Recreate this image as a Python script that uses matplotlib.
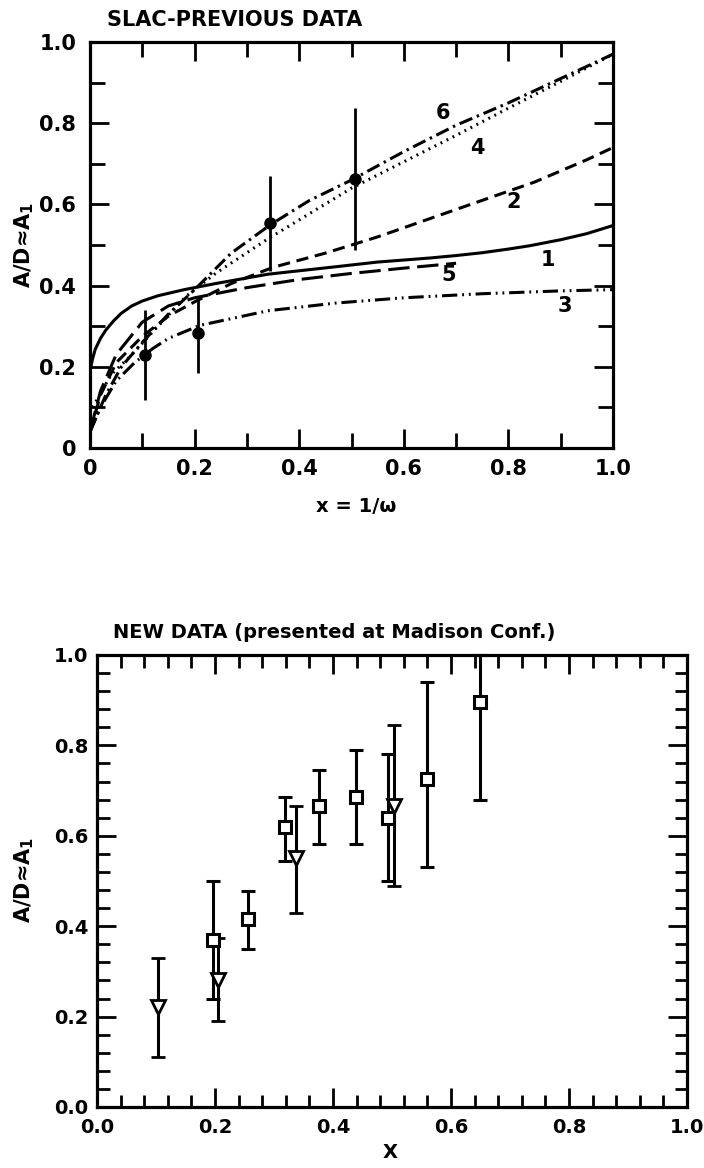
import matplotlib
matplotlib.use("Agg")
import matplotlib.pyplot as plt
from matplotlib.ticker import MultipleLocator

# ---- top panel: model curves ----
c1_x = [0, 0.005, 0.01, 0.02, 0.03, 0.045, 0.06, 0.08, 0.1, 0.13, 0.18, 0.24, 0.34, 0.46, 0.55, 0.65,
        0.7, 0.75, 0.8, 0.84, 0.9, 0.95, 1.0]
c1_y = [0.19, 0.22, 0.243, 0.27, 0.29, 0.313, 0.332, 0.35, 0.362, 0.375, 0.39, 0.405, 0.428, 0.445, 0.458,
        0.468, 0.474, 0.481, 0.49, 0.498, 0.513, 0.528, 0.548]

c2_x = [0, 0.02, 0.05, 0.1, 0.15, 0.2, 0.27, 0.35, 0.45, 0.55, 0.65, 0.75, 0.85, 0.95, 1.0]
c2_y = [0.04, 0.13, 0.21, 0.275, 0.325, 0.36, 0.405, 0.445, 0.48, 0.52, 0.565, 0.61, 0.655, 0.71, 0.74]

c3_x = [0, 0.02, 0.05, 0.085, 0.12, 0.15, 0.21, 0.34, 0.47, 0.6, 0.75, 0.9, 1.0]
c3_y = [0.04, 0.1, 0.165, 0.21, 0.245, 0.27, 0.302, 0.338, 0.357, 0.37, 0.38, 0.387, 0.39]

c4_x = [0.005, 0.04, 0.08, 0.13, 0.185, 0.24, 0.34, 0.5, 0.6, 0.7, 0.8, 0.9, 1.0]
c4_y = [0.1, 0.18, 0.23, 0.3, 0.375, 0.43, 0.515, 0.64, 0.705, 0.77, 0.837, 0.903, 0.97]

c5_x = [0, 0.02, 0.05, 0.1, 0.15, 0.2, 0.3, 0.4, 0.5, 0.6, 0.7]
c5_y = [0.04, 0.14, 0.23, 0.31, 0.35, 0.37, 0.395, 0.415, 0.43, 0.443, 0.455]

c6_x = [0, 0.03, 0.06, 0.1, 0.15, 0.2, 0.27, 0.345, 0.42, 0.5, 0.6, 0.7, 0.8, 0.9, 1.0]
c6_y = [0.04, 0.13, 0.2, 0.26, 0.33, 0.39, 0.48, 0.55, 0.61, 0.66, 0.73, 0.795, 0.85, 0.91, 0.97]

curve_names = ["1", "2", "3", "4", "5", "6"]
curve_label_x = [0.876, 0.81, 0.908, 0.74, 0.685, 0.675]
curve_label_y = [0.462, 0.606, 0.35, 0.74, 0.425, 0.826]

# ---- top panel: SLAC data points ----
slac_x = [0.105, 0.207, 0.345, 0.507]
slac_y = [0.229, 0.283, 0.553, 0.663]
slac_lo = [0.118, 0.184, 0.435, 0.487]
slac_hi = [0.339, 0.37, 0.671, 0.837]

top_ticks = [0, 0.2, 0.4, 0.6, 0.8, 1.0]
top_ticklabels = ["0", "0.2", "0.4", "0.6", "0.8", "1.0"]

# ---- bottom panel: new data ----
sq_x = [0.197, 0.256, 0.318, 0.376, 0.439, 0.494, 0.559, 0.649]
sq_y = [0.37, 0.415, 0.62, 0.665, 0.685, 0.64, 0.725, 0.895]
sq_lo = [0.24, 0.35, 0.545, 0.582, 0.582, 0.50, 0.53, 0.68]
sq_hi = [0.50, 0.478, 0.685, 0.745, 0.79, 0.78, 0.94, 1.0]

tri_x = [0.103, 0.205, 0.338, 0.504]
tri_y = [0.222, 0.28, 0.55, 0.665]
tri_lo = [0.11, 0.19, 0.43, 0.49]
tri_hi = [0.33, 0.373, 0.665, 0.845]

bot_ticks = [0.0, 0.2, 0.4, 0.6, 0.8, 1.0]
bot_ticklabels = ["0.0", "0.2", "0.4", "0.6", "0.8", "1.0"]

plt.rcParams['font.family'] = ['DejaVu Sans']
plt.rcParams['font.weight'] = 'bold'

W, H = 704, 1168
fig = plt.figure(figsize=(W / 100, H / 100), dpi=100)

# ================= top panel =================
ax = fig.add_axes([90 / W, 1 - 448 / H, 523 / W, 406 / H])
lw = 2.2
ax.plot(c1_x, c1_y, color='k', lw=lw, ls='-')
ax.plot(c2_x, c2_y, color='k', lw=lw, dashes=(4, 2.2))
ax.plot(c3_x, c3_y, color='k', lw=lw, dashes=(5, 1.6, 0.6, 1.6, 0.6, 1.6))
ax.plot(c4_x, c4_y, color='k', lw=lw, dashes=(0.6, 1.6))
ax.plot(c5_x, c5_y, color='k', lw=lw, dashes=(7, 2.5))
ax.plot(c6_x, c6_y, color='k', lw=lw, dashes=(4.5, 1.6, 0.8, 1.6))

yerr = [[y - lo for y, lo in zip(slac_y, slac_lo)], [hi - y for y, hi in zip(slac_y, slac_hi)]]
ax.errorbar(slac_x, slac_y, yerr=yerr, fmt='o', color='k', ms=8, elinewidth=2, capsize=0)

for name, lx, ly in zip(curve_names, curve_label_x, curve_label_y):
    ax.text(lx, ly, name, fontsize=15, fontweight='bold', ha='center', va='center')

ax.set_xlim(0, 1.0)
ax.set_ylim(0, 1.0)
ax.set_xticks(top_ticks, top_ticklabels)
ax.set_yticks(top_ticks, top_ticklabels)
ax.xaxis.set_minor_locator(MultipleLocator(0.1))
ax.yaxis.set_minor_locator(MultipleLocator(0.1))
ax.tick_params(which='both', direction='in', top=True, right=True, width=2)
ax.tick_params(which='major', length=14, labelsize=15)
ax.tick_params(axis='x', which='major', pad=8)
ax.tick_params(axis='y', which='major', pad=10)
ax.tick_params(which='minor', length=11)
for sp in ax.spines.values():
    sp.set_linewidth(2.3)

fig.text(107 / W, 1 - 20 / H, "SLAC-PREVIOUS DATA", fontsize=15, fontweight='bold', ha='left', va='center')
fig.text(24 / W, 1 - 245 / H, "A/D≈A$_\\mathbf{1}$", fontsize=15, fontweight='bold', rotation=90,
         ha='center', va='center')
fig.text(356 / W, 1 - 507 / H, "x = 1/ω", fontsize=14, fontweight='bold', ha='center', va='center')

# ================= bottom panel =================
bx = fig.add_axes([97 / W, 1 - 1107 / H, 590 / W, 452 / H])
sq_err = [[y - lo for y, lo in zip(sq_y, sq_lo)], [hi - y for y, hi in zip(sq_y, sq_hi)]]
tri_err = [[y - lo for y, lo in zip(tri_y, tri_lo)], [hi - y for y, hi in zip(tri_y, tri_hi)]]
bx.errorbar(sq_x, sq_y, yerr=sq_err, fmt='s', color='k', mfc='white', mec='k', mew=2.2, ms=9,
            elinewidth=2.2, capsize=5, capthick=2.2, clip_on=False)
bx.errorbar(tri_x, tri_y, yerr=tri_err, fmt='v', color='k', mfc='white', mec='k', mew=2.0, ms=10,
            elinewidth=2.2, capsize=5, capthick=2.2)

bx.set_xlim(0, 1.0)
bx.set_ylim(0, 1.0)
bx.set_xticks(bot_ticks, bot_ticklabels)
bx.set_yticks(bot_ticks, bot_ticklabels)
bx.xaxis.set_minor_locator(MultipleLocator(0.04))
bx.yaxis.set_minor_locator(MultipleLocator(0.04))
bx.tick_params(which='both', direction='in', top=True, right=True, width=2)
bx.tick_params(which='major', length=14, labelsize=14)
bx.tick_params(axis='x', which='major', pad=8)
bx.tick_params(axis='y', which='major', pad=6)
bx.tick_params(which='minor', length=9)
for sp in bx.spines.values():
    sp.set_linewidth(2.3)

fig.text(113 / W, 1 - 632 / H, "NEW DATA (presented at Madison Conf.)", fontsize=14, fontweight='bold',
         ha='left', va='center')
fig.text(24 / W, 1 - 880 / H, "A/D≈A$_\\mathbf{1}$", fontsize=15, fontweight='bold', rotation=90,
         ha='center', va='center')
fig.text(390 / W, 1 - 1152 / H, "X", fontsize=14, fontweight='bold', ha='center', va='center')

fig.savefig("out.png", dpi=100)
